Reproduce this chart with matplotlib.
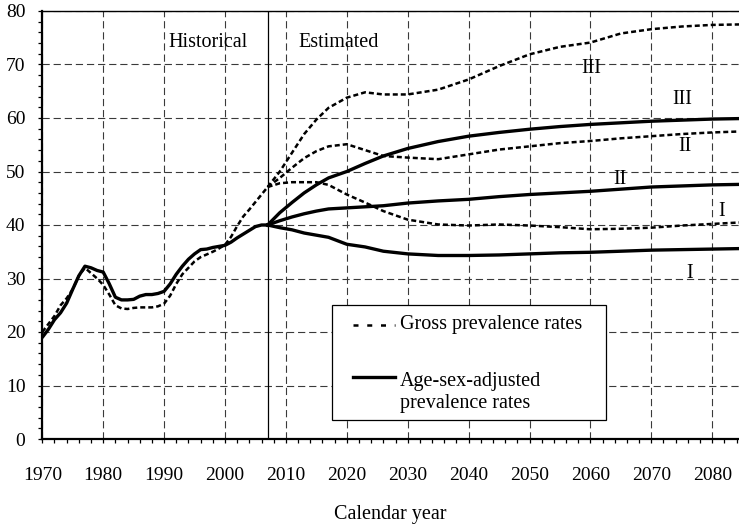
import matplotlib
matplotlib.use("Agg")
import matplotlib.pyplot as plt
from matplotlib.ticker import MultipleLocator
from matplotlib.patches import Rectangle
from matplotlib.lines import Line2D

plt.rcParams['font.family'] = ['Liberation Serif', 'DejaVu Serif']

# ---------------- data ----------------
hist_years = list(range(1970, 2008))
hist_adjusted = [19.0, 20.5, 22.3, 23.6, 25.4, 28.0, 30.5, 32.3, 32.0, 31.5,
                 31.2, 29.0, 26.5, 26.0, 26.0, 26.1, 26.7, 27.0, 27.0, 27.2,
                 27.6, 29.0, 30.8, 32.3, 33.6, 34.6, 35.4, 35.5, 35.8, 36.0,
                 36.2, 36.8, 37.6, 38.3, 39.0, 39.7, 40.0, 40.0]
hist_gross = [20.0, 21.5, 23.0, 25.0, 26.3, 28.0, 30.5, 32.0, 31.0, 30.0,
              28.8, 27.0, 25.0, 24.4, 24.3, 24.5, 24.6, 24.6, 24.6, 24.8,
              25.3, 26.8, 29.0, 30.8, 32.0, 33.2, 34.0, 34.5, 35.0, 35.6,
              36.3, 37.8, 39.8, 41.6, 42.9, 44.3, 45.7, 47.1]

proj_years = [2007, 2009, 2011, 2013, 2015, 2017, 2020, 2023, 2026, 2030, 2035,
              2040, 2045, 2050, 2055, 2060, 2065, 2070, 2075, 2080, 2085]
gross_III = [47.1, 50.0, 53.5, 57.0, 59.7, 61.9, 63.8, 64.8, 64.4, 64.4, 65.3,
             67.2, 69.7, 71.9, 73.3, 74.1, 75.8, 76.6, 77.1, 77.4, 77.5]
gross_II = [47.1, 48.8, 50.7, 52.5, 53.8, 54.7, 55.1, 54.0, 52.9, 52.6, 52.3,
            53.2, 54.1, 54.7, 55.3, 55.7, 56.2, 56.6, 57.0, 57.3, 57.5]
gross_I = [47.1, 47.8, 48.0, 48.0, 48.0, 47.5, 45.7, 44.2, 42.6, 41.0, 40.1,
           39.9, 40.1, 39.9, 39.6, 39.2, 39.3, 39.5, 39.9, 40.2, 40.5]
adj_III = [40.0, 42.3, 44.2, 46.0, 47.5, 48.8, 50.0, 51.5, 52.9, 54.3, 55.6,
           56.6, 57.3, 57.9, 58.4, 58.8, 59.1, 59.4, 59.6, 59.8, 59.9]
adj_II = [40.0, 40.8, 41.5, 42.1, 42.6, 43.0, 43.2, 43.4, 43.6, 44.1, 44.5,
          44.8, 45.3, 45.7, 46.0, 46.3, 46.7, 47.1, 47.3, 47.5, 47.6]
adj_I = [40.0, 39.5, 39.1, 38.5, 38.1, 37.7, 36.4, 35.9, 35.1, 34.6, 34.3,
         34.3, 34.4, 34.6, 34.8, 34.9, 35.1, 35.3, 35.4, 35.5, 35.6]

scenario_labels = ["III", "III", "II", "II", "I", "I"]
label_years = [2060.2, 2075.0, 2075.6, 2064.9, 2081.5, 2076.3]
label_values = [69.3, 63.5, 54.7, 48.5, 42.6, 31.0]

legend_labels = ["Gross prevalence rates", "Age-sex-adjusted\nprevalence rates"]

# ---------------- figure ----------------
fig = plt.figure(figsize=(7.39, 5.25), dpi=100)
ax = fig.add_axes([42.3 / 739, 1 - 439 / 525, 1 - 42.3 / 739, (439 - 11) / 525])

dash = (0, (2.0, 1.2))
lw_d = 1.8
lw_s = 2.4

ax.plot(hist_years, hist_gross, color='black', lw=lw_d, ls=dash)
ax.plot(hist_years, hist_adjusted, color='black', lw=lw_s, solid_capstyle='round')
for s in (gross_III, gross_II, gross_I):
    ax.plot(proj_years, s, color='black', lw=lw_d, ls=dash)
for s in (adj_III, adj_II, adj_I):
    ax.plot(proj_years, s, color='black', lw=lw_s)

ax.axvline(2007, color='black', lw=0.9)

ax.set_xlim(1970, 2084.4)
ax.set_ylim(0, 80)
ax.xaxis.set_major_locator(MultipleLocator(10))
ax.xaxis.set_minor_locator(MultipleLocator(2))
ax.yaxis.set_major_locator(MultipleLocator(10))
ax.yaxis.set_minor_locator(MultipleLocator(2))
ax.grid(True, which='major', color='#3a3a3a', lw=0.8, ls=(0, (6.5, 3.5)))
ax.set_axisbelow(True)

ax.tick_params(axis='both', which='both', direction='out', length=3.2, width=0.9,
               color='black', labelsize=14)
ax.tick_params(axis='x', which='major', pad=17)
ax.tick_params(axis='y', which='major', pad=9)
ax.spines['right'].set_visible(False)
ax.spines['left'].set_linewidth(1.6)
ax.spines['bottom'].set_linewidth(1.6)
ax.spines['top'].set_linewidth(1.0)

ax.set_xlabel("Calendar year", fontsize=14.5, labelpad=15)

ax.text(1997.2, 74.2, "Historical", fontsize=14.5, ha='center', va='center')
ax.text(2012.0, 74.2, "Estimated", fontsize=14.5, ha='left', va='center')

for lab, xv, yv in zip(scenario_labels, label_years, label_values):
    ax.text(xv, yv, lab, fontsize=14.5, ha='center', va='center')

# legend box
x0, x1 = 0.4154, 0.8087
y0, y1 = 0.0444, 0.3131
ax.add_patch(Rectangle((x0, y0), x1 - x0, y1 - y0, transform=ax.transAxes,
                       facecolor='white', edgecolor='black', lw=0.9, zorder=5))
ax.add_line(Line2D([0.446, 0.5063], [0.2664, 0.2664], transform=ax.transAxes,
                   color='black', lw=lw_d, ls=(0, (2.0, 3.5)), zorder=6))
ax.add_line(Line2D([0.446, 0.5063], [0.1442, 0.1442], transform=ax.transAxes,
                   color='black', lw=lw_s, zorder=6))
ax.text(0.5134, 0.2664, legend_labels[0], transform=ax.transAxes, fontsize=14.5,
        ha='left', va='center', zorder=7)
ax.text(0.5134, 0.108, legend_labels[1], transform=ax.transAxes, fontsize=14.5,
        ha='left', va='center', zorder=7, linespacing=1.2)

fig.savefig("out.png", dpi=100)
